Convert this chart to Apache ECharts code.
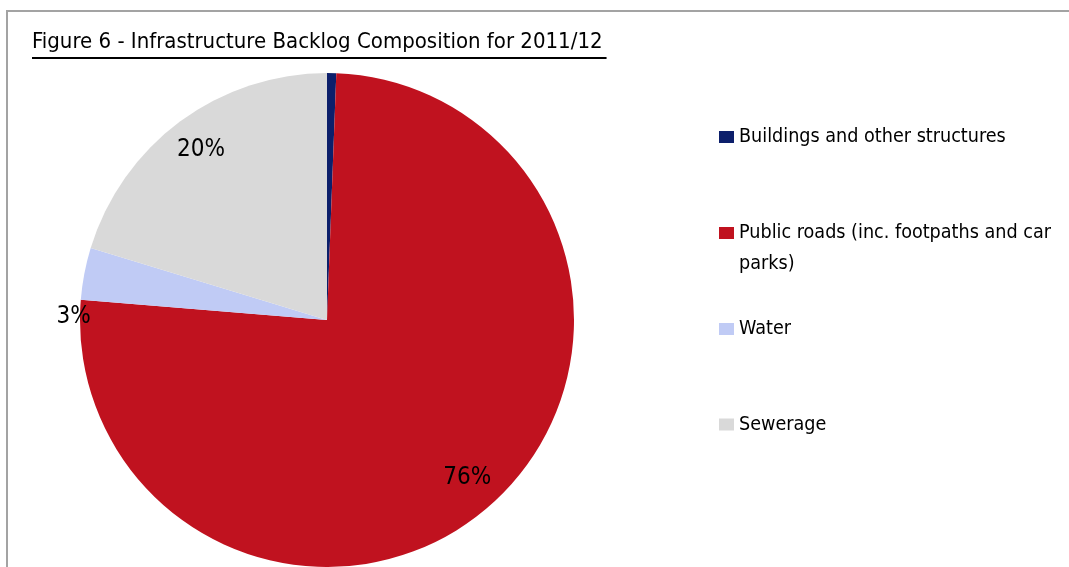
<!DOCTYPE html>
<html><head><meta charset="utf-8">
<script src="https://cdn.jsdelivr.net/npm/echarts@6/dist/echarts.min.js"></script>
<style>html,body{margin:0;padding:0;background:#fff}#c{width:1069px;height:567px}</style>
</head><body><div id="c"></div>
<script>
const titleText = 'Figure 6 - Infrastructure Backlog Composition for 2011/12';
const categories = ['Buildings and other structures', 'Public roads (inc. footpaths and car parks)', 'Water', 'Sewerage'];
const legendLabels = ['Buildings and other structures', '\nPublic roads (inc. footpaths and car\nparks)', 'Water', 'Sewerage'];
const values = [0.6, 75.7, 3.4, 20.3];
const showLabel = [false, true, true, true];
const colors = ['#0c1f6b', '#c0121f', '#c0cbf5', '#d9d9d9'];

const FONT = '"Liberation Sans Narrow","Arial Narrow","DejaVu Sans Condensed",sans-serif';
const TITLE_SIZE = 22, TITLE_LEFT = 32, TITLE_TOP = 31;

function measure(text, size) {
  const c = document.createElement('canvas').getContext('2d');
  c.font = size + 'px ' + FONT;
  return c.measureText(text).width;
}
const titleW = measure(titleText, TITLE_SIZE);

const chart = echarts.init(document.getElementById('c'), null, {renderer: 'canvas'});
const legendTops = [121.5, 186.5, 313.5, 409];
const legends = categories.map((n, i) => ({
  data: [n], orient: 'vertical', left: 719, top: legendTops[i], padding: 0,
  icon: 'rect', itemWidth: 15, itemHeight: 12, itemGap: 0, selectedMode: false,
  formatter: name => legendLabels[categories.indexOf(name)],
  textStyle: {fontFamily: FONT, fontSize: 19.6, color: '#000', lineHeight: 31, padding: [0, 0, 0, 0]}
}));

const pieData = categories.map((n, i) => ({name: n, value: values[i], itemStyle: {color: colors[i]}}));
const labelData = categories.map((n, i) => ({name: n, value: values[i], label: {show: showLabel[i]}}));

chart.setOption({
  animation: false,
  backgroundColor: '#fff',
  title: {
    text: titleText, left: TITLE_LEFT, top: TITLE_TOP, padding: 0,
    textStyle: {fontFamily: FONT, fontSize: TITLE_SIZE, fontWeight: 'normal', color: '#000'}
  },
  legend: legends,
  graphic: [
    {type: 'rect', shape: {x: 7, y: 11, width: 1200, height: 700}, style: {fill: 'none', stroke: '#a3a3a3', lineWidth: 2}, silent: true, z: -1},
    {type: 'rect', shape: {x: TITLE_LEFT, y: 57, width: titleW + 4, height: 2}, style: {fill: '#000'}, silent: true}
  ],
  series: [
    {
      type: 'pie', center: [327, 320], radius: 247, startAngle: 90, clockwise: true,
      data: pieData, label: {show: false}, labelLine: {show: false},
      itemStyle: {borderWidth: 0}, emphasis: {disabled: true}, silent: true
    },
    {
      type: 'pie', center: [327, 320], radius: [170, 247], startAngle: 90, clockwise: true,
      data: labelData, itemStyle: {color: 'rgba(0,0,0,0)', borderWidth: 0},
      label: {show: true, position: 'inside', fontFamily: FONT, fontSize: 24, color: '#000',
        formatter: p => Math.round(p.percent) + '%'},
      labelLine: {show: false}, emphasis: {disabled: true}, silent: true,
      labelLayout: p => p.dataIndex === 2 ? {dx: -45.5, dy: 36} : {}
    }
  ]
});
</script></body></html>
